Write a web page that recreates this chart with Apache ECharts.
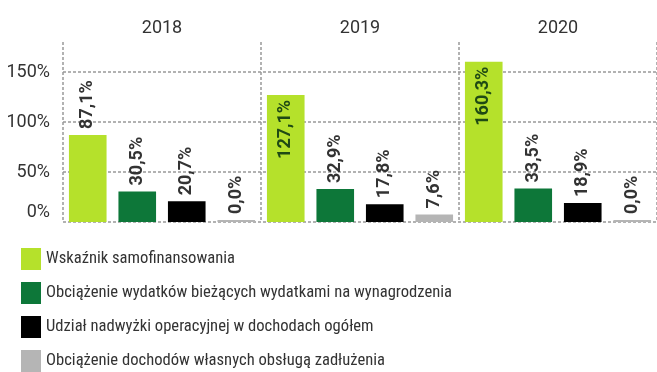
<!DOCTYPE html>
<html>
<head>
<meta charset="utf-8">
<script src="https://cdn.jsdelivr.net/npm/echarts@6/dist/echarts.min.js"></script>
<style>
  html, body { margin: 0; padding: 0; background: #fff; }
  #chart { width: 657px; height: 372px; }
</style>
</head>
<body>
<div id="chart"></div>
<script>
// Years shown along the top axis
const years = ['2018', '2019', '2020'];

// Indicator names (legend order)
const seriesNames = [
  'Wskaźnik samofinansowania',
  'Obciążenie wydatków bieżących wydatkami na wynagrodzenia',
  'Udział nadwyżki operacyjnej w dochodach ogółem',
  'Obciążenie dochodów własnych obsługą zadłużenia'
];

// Values in percent, one array per indicator
const samofinansowanie = [87.1, 127.1, 160.3];
const wynagrodzenia = [30.5, 32.9, 33.5];
const nadwyzka = [20.7, 17.8, 18.9];
const zadluzenie = [0.0, 7.6, 0.0];

const valueAxisTicks = [0, 50, 100, 150];

const colors = ['#b5e12b', '#0d7739', '#000000', '#b5b5b5'];
const FONT = 'Roboto, "Noto Sans", sans-serif';
const NARROW = '"Liberation Sans Narrow", "Roboto Condensed", Roboto, sans-serif';

const fmt = v => v.toFixed(1).replace('.', ',') + '%';

// Labels sit above each bar; tall bars carry their label inside the top
function buildData(values) {
  return values.map(v => {
    if (v > 110) {
      return {
        value: v,
        label: {
          position: 'insideTop',
          align: 'right',
          distance: 5,
          color: '#1f4a14'
        }
      };
    }
    return { value: v };
  });
}

const allValues = [samofinansowanie, wynagrodzenia, nadwyzka, zadluzenie];

const series = allValues.map((vals, i) => ({
  name: seriesNames[i],
  type: 'bar',
  data: buildData(vals),
  barGap: '31.6%',
  barCategoryGap: '6%',
  barMinHeight: i === 3 ? 2 : 0,
  itemStyle: { color: colors[i] },
  label: {
    show: true,
    position: 'top',
    rotate: 90,
    align: 'left',
    verticalAlign: 'middle',
    distance: 6,
    color: '#333',
    fontFamily: FONT,
    fontSize: 18,
    fontWeight: 'bold',
    formatter: p => fmt(p.value)
  }
}));

const chart = echarts.init(document.getElementById('chart'));
chart.setOption({
  animation: false,
  color: colors,
  textStyle: { fontFamily: FONT },
  grid: { left: 63, right: -6, top: 42, bottom: 150, containLabel: false },
  legend: {
    orient: 'vertical',
    left: 21,
    top: 248,
    padding: 0,
    itemWidth: 20,
    itemHeight: 22,
    itemGap: 12,
    icon: 'rect',
    data: seriesNames,
    textStyle: { fontFamily: NARROW, fontSize: 16.6, color: '#333' }
  },
  xAxis: {
    type: 'category',
    position: 'top',
    data: years,
    axisLine: { show: false },
    axisTick: { show: false },
    axisLabel: { color: '#333', fontSize: 18, margin: 5, fontFamily: FONT },
    splitLine: {
      show: true,
      lineStyle: { color: '#999', type: [3, 2], width: 1.5 }
    }
  },
  yAxis: {
    type: 'value',
    min: valueAxisTicks[0],
    max: 180,
    interval: 50,
    axisLine: { show: false },
    axisTick: { show: false },
    axisLabel: {
      color: '#333',
      fontSize: 18,
      margin: 13,
      fontFamily: FONT,
      showMaxLabel: false,
      formatter: v => (valueAxisTicks.includes(v) ? (v === 0 ? '{z|0%}' : v + '%') : ''),
      rich: { z: { fontSize: 18, color: '#333', fontFamily: FONT, padding: [0, 0, 20, 0] } }
    },
    splitLine: {
      show: true,
      showMaxLine: false,
      lineStyle: { color: '#999', type: [3, 2], width: 1.5 }
    }
  },
  series: series
});
</script>
</body>
</html>
